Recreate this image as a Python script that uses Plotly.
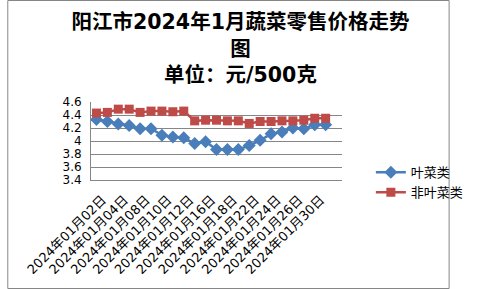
import plotly.graph_objects as go

dates = ["2024年01月02日", "2024年01月03日", "2024年01月04日", "2024年01月05日",
         "2024年01月08日", "2024年01月09日", "2024年01月10日", "2024年01月11日",
         "2024年01月12日", "2024年01月15日", "2024年01月16日", "2024年01月17日",
         "2024年01月18日", "2024年01月19日", "2024年01月22日", "2024年01月23日",
         "2024年01月24日", "2024年01月25日", "2024年01月26日", "2024年01月29日",
         "2024年01月30日", "2024年01月31日"]
leafy = [4.33, 4.30, 4.26, 4.24, 4.19, 4.19, 4.09, 4.06, 4.05, 3.96, 3.99, 3.87,
         3.87, 3.87, 3.93, 4.01, 4.11, 4.14, 4.20, 4.19, 4.25, 4.25]
nonleafy = [4.43, 4.44, 4.49, 4.49, 4.44, 4.46, 4.46, 4.45, 4.46, 4.31, 4.32, 4.32,
            4.31, 4.31, 4.27, 4.30, 4.30, 4.31, 4.31, 4.32, 4.35, 4.35]
series_names = ["叶菜类", "非叶菜类"]
yticks = [3.4, 3.6, 3.8, 4.0, 4.2, 4.4, 4.6]

W, H = 481, 289
ML, MR, MT, MB = 91, 117, 102, 109
PW, PH = W - ML - MR, H - MT - MB

font_family = "DejaVu Sans, Noto Sans CJK SC, sans-serif"

fig = go.Figure()
fig.add_trace(go.Scatter(
    x=dates, y=leafy, name=series_names[0], mode="lines+markers",
    line=dict(color="#4A7EBB", width=2.5),
    marker=dict(symbol="diamond", size=10, color="#4A7EBB"),
))
fig.add_trace(go.Scatter(
    x=dates, y=nonleafy, name=series_names[1], mode="lines+markers",
    line=dict(color="#BE4B48", width=2.5),
    marker=dict(symbol="square", size=9, color="#BE4B48"),
))

fig.update_layout(
    width=W, height=H,
    margin=dict(l=ML, r=MR, t=MT, b=MB),
    paper_bgcolor="white", plot_bgcolor="white",
    font=dict(family=font_family, color="black"),
    title=dict(
        text="<b>阳江市2024年1月蔬菜零售价格走势<br>图<br>单位：元/500克</b>",
        x=0.5, xanchor="center", xref="container",
        y=1 - 29 / H, yanchor="top", yref="container",
        font=dict(size=20.5, family=font_family, color="black"),
    ),
    legend=dict(
        x=1.115, xanchor="left", y=0.29, yanchor="top",
        font=dict(size=13, family=font_family, color="black"),
        bgcolor="rgba(0,0,0,0)", tracegroupgap=2,
    ),
    showlegend=True,
    xaxis=dict(
        type="category", categoryorder="array", categoryarray=dates,
        range=[-0.5, len(dates) + 0.5],
        tickvals=dates[::2], ticktext=dates[::2],
        tickangle=-45, tickfont=dict(size=13, family=font_family),
        ticklabelstandoff=6, ticklabelshift=6,
        showgrid=False, showline=True, linecolor="#868686", linewidth=1,
        ticks="", zeroline=False,
    ),
    yaxis=dict(
        range=[3.4, 4.6], tickvals=yticks, ticktext=[("%g" % v) for v in yticks],
        tickfont=dict(size=12, family=font_family),
        ticklabelstandoff=6,
        showgrid=True, gridcolor="#868686", gridwidth=1,
        showline=True, linecolor="#868686", linewidth=1,
        ticks="", zeroline=False,
    ),
    shapes=[dict(
        type="rect", xref="paper", yref="paper",
        x0=(0.5 - ML) / PW, x1=(W - 0.5 - ML) / PW,
        y0=-(MB - 0.5) / PH, y1=1 + (MT - 0.5) / PH,
        line=dict(color="#868686", width=1), fillcolor="rgba(0,0,0,0)",
        layer="below",
    )],
)

fig.write_html("out.html")
